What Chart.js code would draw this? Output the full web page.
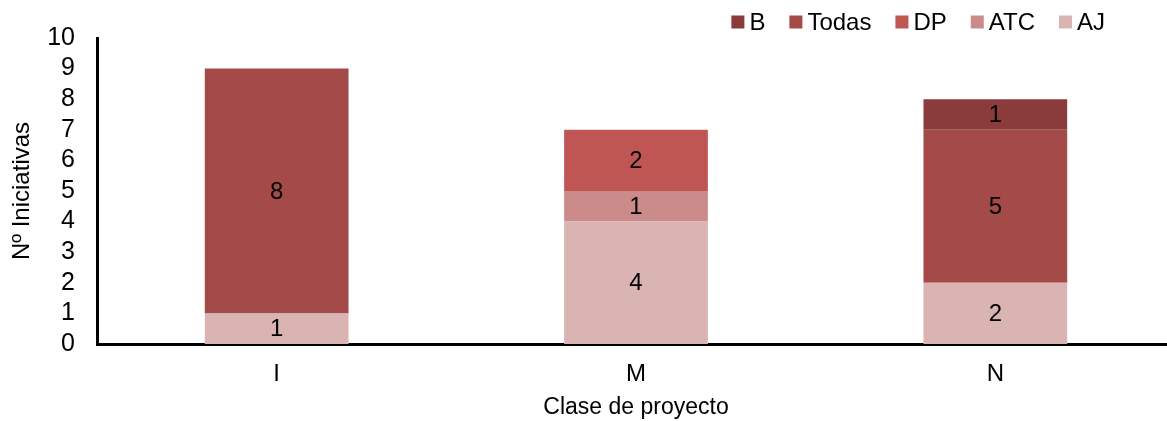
<!DOCTYPE html>
<html>
<head>
<meta charset="utf-8">
<script src="https://cdn.jsdelivr.net/npm/chart.js@4"></script>
<style>
  html, body { margin: 0; padding: 0; background: #fff; overflow: hidden; }
  #wrap { width: 1167px; height: 421px; overflow: hidden; position: relative; }
  #inner { width: 1175px; height: 421px; position: relative; }
</style>
</head>
<body>
<div id="wrap"><div id="inner"><canvas id="myChart"></canvas></div></div>
<script>
const categories = ['I', 'M', 'N'];

// stacked bottom to top
const ajValues    = [1, 4, 2];
const atcValues   = [0, 1, 0];
const dpValues    = [0, 2, 0];
const todasValues = [8, 0, 5];
const bValues     = [0, 0, 1];

const yTicks = [0, 1, 2, 3, 4, 5, 6, 7, 8, 9, 10];

const seriesColors = {
  'AJ': '#dab3b3',
  'ATC': '#cb8b8a',
  'DP': '#c05654',
  'Todas': '#a44b49',
  'B': '#8a3c3c'
};

const fontFamily = '"Liberation Sans", Arial, Helvetica, sans-serif';

// writes each segment's value in the middle of its bar
const segmentLabels = {
  id: 'segmentLabels',
  afterDatasetsDraw(chart) {
    const ctx = chart.ctx;
    ctx.save();
    ctx.font = '24px ' + fontFamily;
    ctx.fillStyle = '#000';
    ctx.textAlign = 'center';
    ctx.textBaseline = 'middle';
    chart.data.datasets.forEach((ds, i) => {
      const meta = chart.getDatasetMeta(i);
      meta.data.forEach((bar, j) => {
        const v = ds.data[j];
        if (!v) return;
        ctx.fillText(String(v), bar.x, (bar.y + bar.base) / 2 + 1);
      });
    });
    ctx.restore();
  }
};

// compact legend across the top right: small square, short gap, label
const topLegend = {
  id: 'topLegend',
  afterDraw(chart) {
    const ctx = chart.ctx;
    const items = chart.data.datasets.slice().reverse();
    const box = 13, gap = 5, spacing = 24;
    ctx.save();
    ctx.font = '24px ' + fontFamily;
    ctx.textBaseline = 'middle';
    ctx.textAlign = 'left';
    let total = 0;
    items.forEach((ds, i) => {
      total += box + gap + ctx.measureText(ds.label).width;
      if (i < items.length - 1) total += spacing;
    });
    let x = 1105 - total;
    const cy = 22;
    items.forEach(ds => {
      ctx.fillStyle = ds.backgroundColor;
      ctx.fillRect(x, cy - box / 2, box, box);
      x += box + gap;
      ctx.fillStyle = '#000';
      ctx.fillText(ds.label, x, cy + 1);
      x += ctx.measureText(ds.label).width + spacing;
    });
    ctx.restore();
  }
};

function makeSet(label, data) {
  return {
    label: label,
    data: data,
    backgroundColor: seriesColors[label],
    borderWidth: 0,
    barPercentage: 0.4,
    categoryPercentage: 1.0
  };
}

const datasets = [
  makeSet('AJ', ajValues),
  makeSet('ATC', atcValues),
  makeSet('DP', dpValues),
  makeSet('Todas', todasValues),
  makeSet('B', bValues)
];

const ctx = document.getElementById('myChart').getContext('2d');

const myChart = new Chart(ctx, {
  type: 'bar',
  data: {
    labels: categories,
    datasets: datasets
  },
  plugins: [segmentLabels, topLegend],
  options: {
    responsive: true,
    maintainAspectRatio: false,
    animation: false,
    layout: {
      padding: { top: 38, right: 0, left: 0, bottom: 0 }
    },
    scales: {
      x: {
        stacked: true,
        afterFit(scale) { scale.height = 77; },
        grid: { display: false, drawTicks: false },
        border: { display: true, color: '#000', width: 3 },
        ticks: {
          color: '#000',
          font: { family: fontFamily, size: 24 },
          padding: 16
        },
        title: {
          display: true,
          text: 'Clase de proyecto',
          color: '#000',
          font: { family: fontFamily, size: 23 },
          padding: { top: 0, bottom: 0 }
        }
      },
      y: {
        stacked: true,
        min: 0,
        max: 10,
        afterBuildTicks(scale) {
          scale.ticks = yTicks.map(v => ({ value: v }));
        },
        afterFit(scale) { scale.width = 97; },
        grid: { display: false, drawTicks: false },
        border: { display: true, color: '#000', width: 3 },
        ticks: {
          color: '#000',
          autoSkip: false,
          font: { family: fontFamily, size: 25, lineHeight: 1 },
          padding: 22
        },
        title: {
          display: true,
          text: 'Nº Iniciativas',
          color: '#000',
          font: { family: fontFamily, size: 24 },
          padding: { top: 8, bottom: 0 }
        }
      }
    },
    plugins: {
      legend: { display: false },
      tooltip: { enabled: false }
    }
  }
});
</script>
</body>
</html>
